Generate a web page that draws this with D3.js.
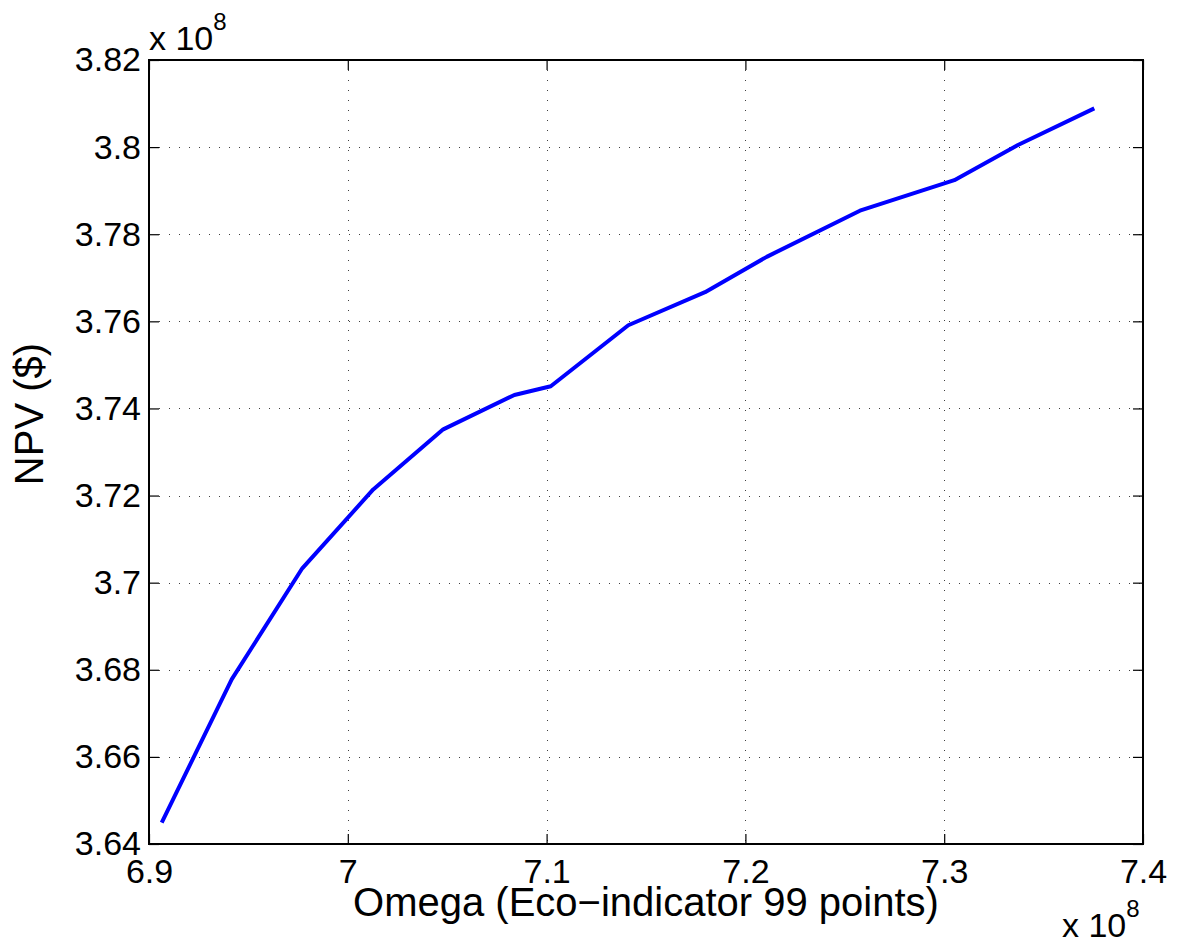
<!DOCTYPE html>
<html>
<head>
<meta charset="utf-8">
<script src="https://cdn.jsdelivr.net/npm/d3@7"></script>
<style>
  html, body { margin: 0; padding: 0; background: #fff; }
  svg { display: block; }
  text { font-family: "Liberation Sans", Arial, Helvetica, sans-serif; fill: #000; }
</style>
</head>
<body>
<svg id="chart" width="1179" height="946"></svg>
<script>
// Data (values in units of 1e8)
const omega = [6.9064, 6.9416, 6.9771, 7.0128, 7.0480, 7.0838, 7.1021, 7.1411, 7.1797, 7.2107, 7.2576, 7.3051, 7.3371, 7.3755];
const npv   = [3.6449, 3.6778, 3.7033, 3.7214, 3.7352, 3.7431, 3.7451, 3.7591, 3.7667, 3.7748, 3.7854, 3.7924, 3.8005, 3.8089];

const xTicks = [6.9, 7.0, 7.1, 7.2, 7.3, 7.4];
const xTickLabels = ["6.9", "7", "7.1", "7.2", "7.3", "7.4"];
const yTicks = [3.64, 3.66, 3.68, 3.70, 3.72, 3.74, 3.76, 3.78, 3.80, 3.82];
const yTickLabels = ["3.64", "3.66", "3.68", "3.7", "3.72", "3.74", "3.76", "3.78", "3.8", "3.82"];

const xLabel = "Omega (Eco\u2212indicator 99 points)";
const yLabel = "NPV ($)";

const svg = d3.select("#chart");
const W = 1179, H = 946;
const m = { left: 149, top: 60, right: W - 1143, bottom: H - 844 };
const pw = W - m.left - m.right, ph = H - m.top - m.bottom;

svg.append("rect").attr("width", W).attr("height", H).attr("fill", "#fff");

const x = d3.scaleLinear().domain([6.9, 7.4]).range([m.left, m.left + pw]);
const y = d3.scaleLinear().domain([3.64, 3.82]).range([m.top + ph, m.top]);

// grid
const grid = svg.append("g").attr("stroke", "#000").attr("stroke-width", 1)
  .attr("stroke-dasharray", "1,9").attr("opacity", 0.75);
grid.selectAll(".gx").data(xTicks.slice(1, -1)).join("line")
  .attr("x1", d => Math.round(x(d)) + 0.5).attr("x2", d => Math.round(x(d)) + 0.5)
  .attr("y1", m.top).attr("y2", m.top + ph);
grid.selectAll(".gy").data(yTicks.slice(1, -1)).join("line")
  .attr("y1", d => Math.round(y(d)) + 0.5).attr("y2", d => Math.round(y(d)) + 0.5)
  .attr("x1", m.left).attr("x2", m.left + pw);

const fmtX = d => xTickLabels[xTicks.findIndex(t => Math.abs(t - d) < 1e-9)];
const fmtY = d => yTickLabels[yTicks.findIndex(t => Math.abs(t - d) < 1e-9)];

function styleAxis(g, fs) {
  g.select(".domain").remove();
  g.selectAll(".tick line").attr("stroke", "#000").attr("stroke-width", 1.2);
  g.selectAll(".tick text").attr("font-size", fs).attr("font-family", "Liberation Sans, Arial, sans-serif");
}

svg.append("g").attr("transform", `translate(0,${m.top + ph})`)
  .call(d3.axisBottom(x).tickValues(xTicks).tickFormat(fmtX).tickSize(-10).tickPadding(15))
  .call(g => styleAxis(g, 34));
svg.append("g").attr("transform", `translate(0,${m.top})`)
  .call(d3.axisTop(x).tickValues(xTicks).tickFormat("").tickSize(-10))
  .call(g => styleAxis(g, 34));
svg.append("g").attr("transform", `translate(${m.left},0)`)
  .call(d3.axisLeft(y).tickValues(yTicks).tickFormat(fmtY).tickSize(-10).tickPadding(8))
  .call(g => styleAxis(g, 34));
svg.append("g").attr("transform", `translate(${m.left + pw},0)`)
  .call(d3.axisRight(y).tickValues(yTicks).tickFormat("").tickSize(-10))
  .call(g => styleAxis(g, 34));

// box
svg.append("rect").attr("x", m.left).attr("y", m.top).attr("width", pw).attr("height", ph)
  .attr("fill", "none").attr("stroke", "#000").attr("stroke-width", 2);

// line
const line = d3.line().x((d, i) => x(omega[i])).y((d, i) => y(npv[i]));
svg.append("path").datum(omega).attr("d", line)
  .attr("fill", "none").attr("stroke", "#0000ff").attr("stroke-width", 4)
  .attr("stroke-linejoin", "round");

// axis labels
svg.append("text").attr("x", x(7.15)).attr("y", 916).attr("text-anchor", "middle")
  .attr("font-size", 40).text(xLabel);
svg.append("text").attr("transform", "translate(43,414) rotate(-90)").attr("text-anchor", "middle")
  .attr("font-size", 40).text(yLabel);

// exponent labels
function expLabel(xp, yb) {
  const t = svg.append("text").attr("x", xp).attr("y", yb).attr("font-size", 34);
  t.append("tspan").text("x 10");
  t.append("tspan").attr("font-size", 24).attr("dy", -20).text("8");
}
expLabel(149, 50);
expLabel(1062, 937);
</script>
</body>
</html>
